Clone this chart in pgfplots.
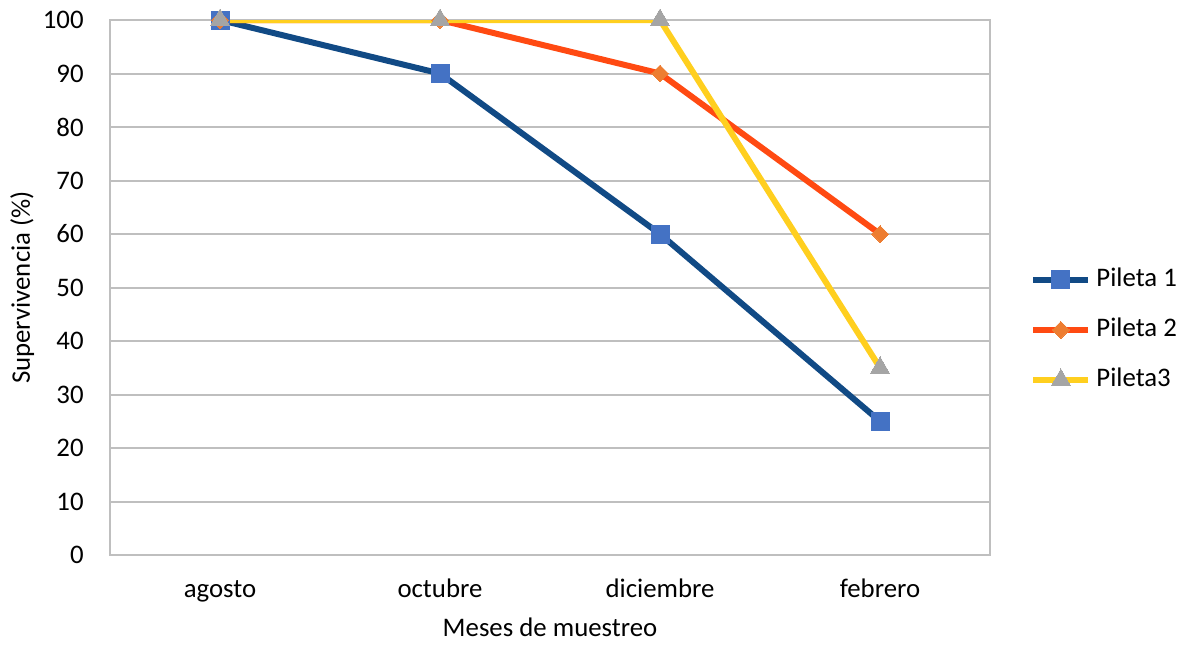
\documentclass[border=0pt]{standalone}
\usepackage{pgfplots}
\pgfplotsset{compat=1.18}
\usepackage{fontspec}
\setmainfont{Carlito}
\definecolor{gridgray}{HTML}{BFBFBF}
\definecolor{p1line}{HTML}{114A85}
\definecolor{p1mark}{HTML}{4472C4}
\definecolor{p2line}{HTML}{FF4A12}
\definecolor{p2mark}{HTML}{ED7D31}
\definecolor{p3line}{HTML}{FFCF1F}
\definecolor{p3mark}{HTML}{A5A5A5}
\begin{document}
\begin{tikzpicture}
\fontsize{13.4}{16}\selectfont
\begin{axis}[
  name=ax,
  scale only axis,
  width=440pt, height=267.5pt,
  xmin=-0.5, xmax=3.5, ymin=0, ymax=100,
  xtick={0,1,2,3},
  xticklabels={agosto,octubre,diciembre,febrero},
  ytick={0,10,...,100},
  ymajorgrids,
  grid style={gridgray, line width=1pt},
  axis line style={gridgray, line width=1pt},
  major tick length=0pt,
  tick style={draw=none},
  /pgf/number format/assume math mode=true,
  tick label style={font=\fontsize{13.4}{16}\selectfont, text=black},
  label style={font=\fontsize{13.4}{16}\selectfont, text=black},
  yticklabel style={inner sep=0pt, anchor=east, xshift=-13pt},
  xticklabel style={inner sep=0pt, anchor=base, yshift=-21pt},
  xlabel={Meses de muestreo},
  ylabel={Supervivencia (\%)},
  xlabel style={at={(axis description cs:0.5,0)}, anchor=base, inner sep=0pt, yshift=-40.5pt},
  ylabel style={at={([xshift=-40pt]axis description cs:0,0.5)}, anchor=base, inner sep=0pt, rotate=0},
  legend style={draw=none, fill=none, inner sep=0pt, at={([xshift=20pt]axis description cs:1,0.4206)}, anchor=west,
    font=\fontsize{13.4}{16}\selectfont, row sep=12.5pt, column sep=2.5pt,
    nodes={inner sep=0pt, text height=9.5pt, text depth=3pt, anchor=west}},
  legend cell align=left,
  legend image code/.code={\draw[mark repeat=2,mark phase=2] plot coordinates {(0pt,0pt)(13.75pt,0pt)(27.5pt,0pt)};},
]
\addplot[p1line, line width=3pt, mark=square*, mark size=4.5pt, mark options={draw=p1mark, fill=p1mark, line width=0pt}]
  coordinates {(0,100)(1,90)(2,60)(3,25)};
\addlegendentry{Pileta 1}
\addplot[p2line, line width=3pt, mark=square*, mark size=3pt, mark options={draw=p2mark, fill=p2mark, line width=0pt, rotate=45}]
  coordinates {(0,100)(1,100)(2,90)(3,60)};
\addlegendentry{Pileta 2}
\addplot[p3line, line width=3pt, mark=triangle*, mark size=5.5pt, mark options={draw=p3mark, fill=p3mark, line width=0pt}]
  coordinates {(0,100)(1,100)(2,100)(3,35)};
\addlegendentry{Pileta3}
\end{axis}
\pgfresetboundingbox
\path[use as bounding box] ([shift={(-55pt,-44.5pt)}]ax.south west) rectangle ([shift={(95pt,10pt)}]ax.north east);
\end{tikzpicture}
\end{document}
